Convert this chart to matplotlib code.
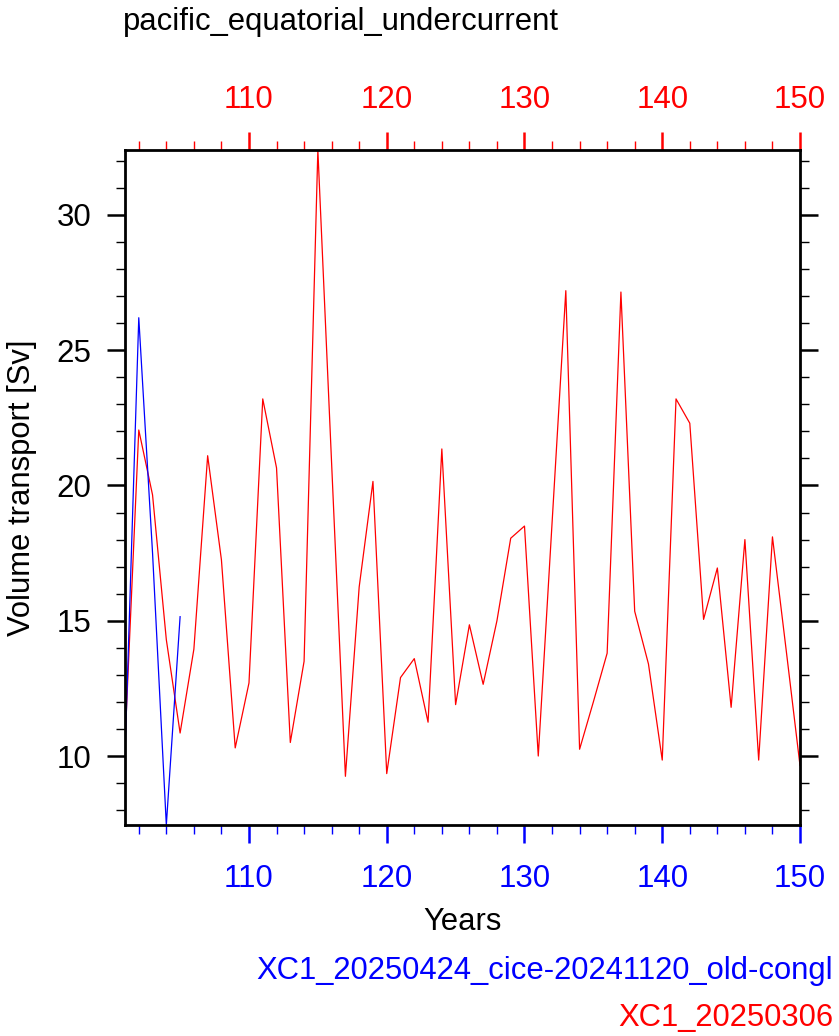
import matplotlib
matplotlib.use('Agg')
import matplotlib.pyplot as plt
import numpy as np

plt.rcParams['font.family'] = ['Liberation Sans', 'DejaVu Sans']

# red run, years 101-150
years_red = np.arange(101, 151)
transport_red = [10.5, 22.05, 19.65, 14.3, 10.85, 13.95, 21.1, 17.25, 10.3, 12.7,
                 23.2, 20.65, 10.5, 13.5, 32.4, 20.8, 9.25, 16.25, 20.15, 9.35,
                 12.9, 13.6, 11.25, 21.35, 11.9, 14.85, 12.65, 15.0, 18.05, 18.5,
                 10.0, 18.6, 27.2, 10.25, 12.0, 13.8, 27.15, 15.35, 13.4, 9.85,
                 23.2, 22.3, 15.05, 16.95, 11.8, 18.0, 9.85, 18.1, 13.9, 9.65]

# blue run, years 101-105
years_blue = np.arange(101, 106)
transport_blue = [10.0, 26.2, 17.5, 7.45, 15.15]

title = 'pacific_equatorial_undercurrent'
name_blue = 'XC1_20250424_cice-20241120_old-congl'
name_red = 'XC1_20250306'

W, H = 839, 1036
fig = plt.figure(figsize=(W / 100, H / 100), dpi=100)
ax = fig.add_axes([125 / W, 1 - 825 / H, 675 / W, 675 / H])

ax.plot(years_red, transport_red, color='red', lw=0.9)
ax.plot(years_blue, transport_blue, color='blue', lw=0.9)

allv = transport_red + transport_blue
ax.set_xlim(101, 150)
ax.set_ylim(min(allv), max(allv))

for s in ax.spines.values():
    s.set_linewidth(2.0)
    s.set_color('black')

ax.set_xticks([110, 120, 130, 140, 150])
ax.set_xticks(np.arange(102, 151, 2), minor=True)
ax.set_yticks([10, 15, 20, 25, 30])
ax.set_yticks(np.arange(8, 33, 1), minor=True)

fs_tick = 22.5
ax.tick_params(axis='y', which='both', direction='out', left=True, right=True,
               labelleft=True, labelright=False, colors='black', labelsize=fs_tick, pad=11)
ax.tick_params(axis='y', which='major', length=13, width=1.8)
ax.tick_params(axis='y', which='minor', length=6.5, width=1.0)
ax.tick_params(axis='x', which='both', direction='out', bottom=True, top=False,
               colors='blue', labelsize=fs_tick, pad=15)
ax.tick_params(axis='x', which='major', length=13, width=1.8)
ax.tick_params(axis='x', which='minor', length=6.5, width=1.0)

top = ax.secondary_xaxis('top')
top.set_xticks([110, 120, 130, 140, 150])
top.set_xticks(np.arange(102, 151, 2), minor=True)
top.spines['top'].set_visible(False)
top.tick_params(axis='x', which='both', direction='out', colors='red', labelsize=fs_tick, pad=12)
top.tick_params(axis='x', which='major', length=13, width=1.8)
top.tick_params(axis='x', which='minor', length=6.5, width=1.0)

fs_lab = 22.3
fig.text(123 / W, 1 - 30 / H, title, fontsize=fs_lab, ha='left', va='baseline')
fig.text(7 / W, 1 - 487.5 / H, 'Volume transport [Sv]', fontsize=fs_lab,
         rotation=90, ha='left', va='center')
fig.text(462.5 / W, 1 - 930 / H, 'Years', fontsize=fs_lab, ha='center', va='baseline')
fig.text(833 / W, 1 - 979 / H, name_blue, fontsize=fs_lab, color='blue',
         ha='right', va='baseline')
fig.text(833 / W, 1 - 1026 / H, name_red, fontsize=fs_lab, color='red',
         ha='right', va='baseline')

fig.savefig('out.png', dpi=100)
